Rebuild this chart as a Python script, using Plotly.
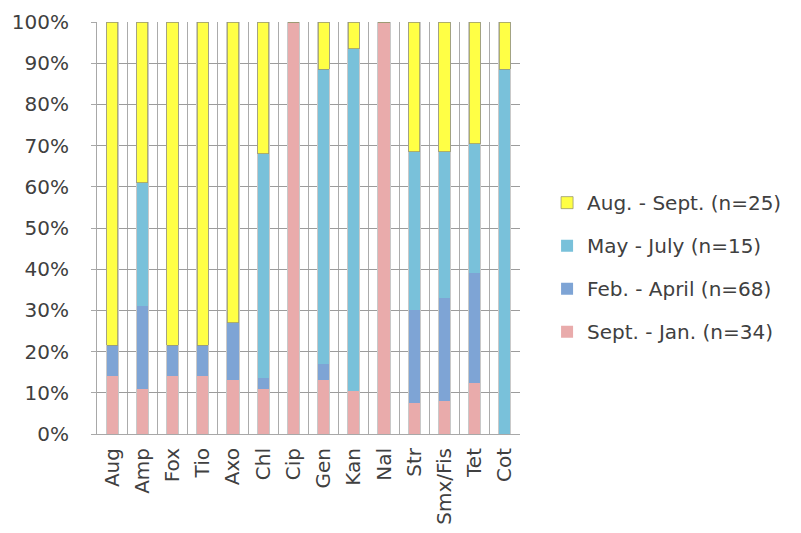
import plotly.graph_objects as go

categories = ["Aug", "Amp", "Fox", "Tio", "Axo", "Chl", "Cip", "Gen", "Kan", "Nal",
              "Str", "Smx/Fis", "Tet", "Cot"]
sept_jan = [14, 11, 14, 14, 13, 11, 100, 13, 10.5, 100, 7.5, 8, 12.5, 0]
feb_april = [7.5, 20, 7.5, 7.5, 14, 2.5, 0, 4, 0, 0, 22.5, 25, 26.5, 0]
may_july = [0, 30, 0, 0, 0, 54.5, 0, 71.5, 83, 0, 38.5, 35.5, 31.5, 88.5]
aug_sept = [78.5, 39, 78.5, 78.5, 73, 32, 0, 11.5, 6.5, 0, 31.5, 31.5, 29.5, 11.5]
series_names = ["Sept. - Jan. (n=34)", "Feb. - April (n=68)", "May - July (n=15)", "Aug. - Sept. (n=25)"]
y_ticks = [0, 10, 20, 30, 40, 50, 60, 70, 80, 90, 100]

colors = ["#E9ABAB", "#7EA4D5", "#79C1DA", "#FFFF45"]
series = [sept_jan, feb_april, may_july, aug_sept]
pos = list(range(len(categories)))

FONT = "'DejaVu Sans', Verdana, sans-serif"

fig = go.Figure()
for k, (name, vals, col) in enumerate(zip(series_names, series, colors)):
    fig.add_trace(go.Bar(
        x=pos, y=vals, name=name, width=0.37,
        marker=dict(color=col, line=dict(width=0.8 if k == 3 else 0, color="#9A9A70")),
        legendgroup=name, legendrank=len(series) - k,
    ))

# invisible trace on overlay axis for edge gridlines
fig.add_trace(go.Scatter(x=[pos[0]], y=[0], xaxis="x2", mode="markers",
                         marker=dict(opacity=0), showlegend=False, hoverinfo="skip"))

edge_vals = [p + d for p in pos for d in (-0.2, 0.2)]

fig.update_layout(
    width=801, height=533,
    margin=dict(l=89, r=289, t=14, b=107, autoexpand=False),
    paper_bgcolor="white", plot_bgcolor="white",
    barmode="stack",
    font=dict(family=FONT, size=20, color="#404040"),
    showlegend=True,
    legend=dict(x=1.064, xanchor="left", y=0.405, yanchor="middle",
                traceorder="grouped", tracegroupgap=14,
                font=dict(family=FONT, size=20, color="#404040")),
    xaxis=dict(range=[-0.5, len(categories) - 0.5], tickmode="array", tickvals=pos,
               ticktext=categories, tickangle=-90, showgrid=False, ticks="",
               showline=True, linecolor="#A8A8A8", linewidth=1, zeroline=False,
               automargin=False, ticklabelstandoff=5,
               minor=dict(tickmode="linear", tick0=-0.5, dtick=1, showgrid=True,
                          gridcolor="#ABABAB", gridwidth=1),
               tickfont=dict(family=FONT, size=20, color="#404040")),
    xaxis2=dict(range=[-0.5, len(categories) - 0.5], overlaying="x", tickmode="array",
                tickvals=edge_vals, showticklabels=False, showgrid=True, automargin=False,
                gridcolor="#C9C9C9", gridwidth=1, zeroline=False, showline=False),
    yaxis=dict(range=[0, 100], tickmode="array", tickvals=y_ticks,
               ticktext=[f"{v}%" for v in y_ticks], showgrid=True, gridcolor="#9C9C9C",
               gridwidth=1, showline=True, linecolor="#A8A8A8", ticks="outside",
               ticklen=5, tickcolor="#A8A8A8", zeroline=False, ticklabelstandoff=18,
               automargin=False,
               tickfont=dict(family=FONT, size=20, color="#404040")),
)

fig.write_html("out.html")
